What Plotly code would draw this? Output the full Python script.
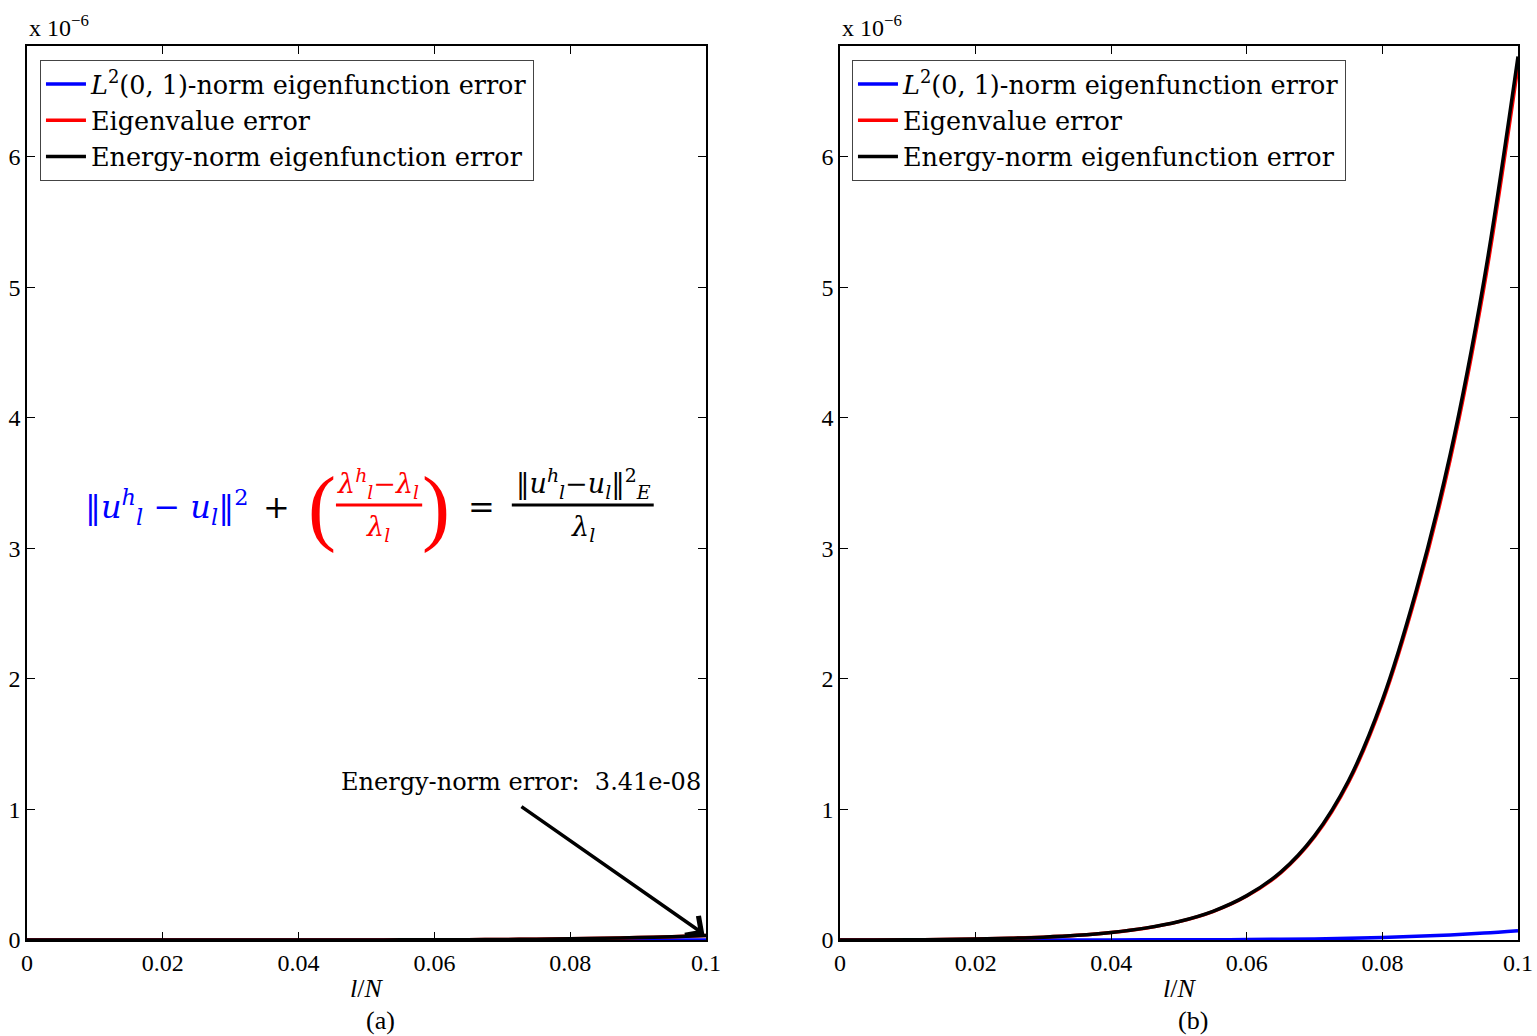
import plotly.graph_objects as go

# ---- data (errors in units of 1e-6) ----
l_over_N = [0.000, 0.005, 0.010, 0.015, 0.020, 0.025, 0.030, 0.035, 0.040, 0.045,
            0.050, 0.055, 0.060, 0.065, 0.070, 0.075, 0.080, 0.085, 0.090, 0.095, 0.100]

# panel (a)
l2_err_a = [0, 0, 0, 0, 0, 0, 0, 0, 0, 0.000001,
            0.000002, 0.000003, 0.000005, 0.000008, 0.000012, 0.00002, 0.00003, 0.00005, 0.00008, 0.00012, 0.00018]
eig_err_a = [0, 0.000001, 0.000007, 0.000018, 0.000036, 0.000065, 0.00011, 0.00018, 0.00029, 0.00046,
             0.00072, 0.0011, 0.0017, 0.0026, 0.0040, 0.0061, 0.0093, 0.0135, 0.0186, 0.0254, 0.0339]
energy_err_a = [0, 0.000001, 0.000007, 0.000018, 0.000036, 0.000065, 0.00011, 0.00018, 0.00029, 0.00046,
                0.00072, 0.0011, 0.0017, 0.0026, 0.0040, 0.0061, 0.0093, 0.0135, 0.0187, 0.0255, 0.0341]

# panel (b)
l2_err_b = [0, 0, 0, 0, 0, 0.0001, 0.0002, 0.0004, 0.0006, 0.001,
            0.0015, 0.0023, 0.0036, 0.0055, 0.0084, 0.0128, 0.019, 0.028, 0.039, 0.053, 0.071]
eig_err_b = [0, 0.0002, 0.0013, 0.0035, 0.0072, 0.0129, 0.0218, 0.0356, 0.0574, 0.090,
             0.1405, 0.2177, 0.3364, 0.5145, 0.7916, 1.207, 1.821, 2.652, 3.681, 5.007, 6.699]
energy_err_b = [0, 0.0002, 0.0013, 0.0035, 0.0072, 0.013, 0.022, 0.036, 0.058, 0.091,
                0.142, 0.22, 0.34, 0.52, 0.80, 1.22, 1.84, 2.68, 3.72, 5.06, 6.77]

x_ticks = [0, 0.02, 0.04, 0.06, 0.08, 0.1]
x_ticklabels = ["0", "0.02", "0.04", "0.06", "0.08", "0.1"]
y_ticks = [0, 1, 2, 3, 4, 5, 6]
y_ticklabels = ["0", "1", "2", "3", "4", "5", "6"]
series_names = ["<i>L</i><sup>2</sup>(0, 1)-norm eigenfunction error",
                "Eigenvalue error",
                "Energy-norm eigenfunction error"]
series_colors = ["#0000ff", "#ff0000", "#000000"]
SCALE = 1e-6

FONT = "Liberation Serif"
WIDE = "DejaVu Serif"

fig = go.Figure()

panels = [
    ("x", "y", "legend", [l2_err_a, eig_err_a, energy_err_a]),
    ("x2", "y2", "legend2", [l2_err_b, eig_err_b, energy_err_b]),
]
for xa, ya, leg, series in panels:
    for name, color, vals in zip(series_names, series_colors, series):
        fig.add_trace(go.Scatter(
            x=l_over_N, y=vals, mode="lines", name=name,
            line=dict(color=color, width=3.5, shape="spline", smoothing=1.0),
            xaxis=xa, yaxis=ya, legend=leg, hoverinfo="skip",
        ))

axis_common = dict(
    showline=True, linecolor="black", linewidth=1.5, mirror="ticks",
    ticks="inside", ticklen=8, tickwidth=1, tickcolor="black",
    showgrid=False, zeroline=False,
    tickfont=dict(family=FONT, size=24, color="black"),
)

fig.update_layout(
    width=1537, height=1036,
    margin=dict(l=27, r=19, t=46, b=96, autoexpand=False),
    paper_bgcolor="white", plot_bgcolor="white",
    font=dict(family=FONT, color="black"),
    showlegend=True,
    xaxis=dict(domain=[0, 0.4554], range=[0, 0.1], tickvals=x_ticks, ticktext=x_ticklabels,
               anchor="y", **axis_common),
    yaxis=dict(domain=[0, 1], range=[0, 6.85], tickvals=y_ticks, ticktext=y_ticklabels,
               anchor="x", **axis_common),
    xaxis2=dict(domain=[0.5453, 1], range=[0, 0.1], tickvals=x_ticks, ticktext=x_ticklabels,
                anchor="y2", **axis_common),
    yaxis2=dict(domain=[0, 1], range=[0, 6.85], tickvals=y_ticks, ticktext=y_ticklabels,
                anchor="x2", **axis_common),
)

legend_style = dict(
    xanchor="left", yanchor="top", bgcolor="white",
    bordercolor="#444444", borderwidth=1,
    font=dict(family=WIDE, size=25.5, color="black"),
    tracegroupgap=0, itemwidth=40,
)
fig.update_layout(
    legend=dict(x=0.0087, y=0.9843, **legend_style),
    legend2=dict(x=0.5533, y=0.9843, **legend_style),
)

# axis exponent labels, axis titles and panel captions
for xa, cap in [("x", "(a)"), ("x2", "(b)")]:
    fig.add_annotation(xref=f"{xa} domain", yref="paper", x=0, y=1.003, xanchor="left",
                       yanchor="bottom", text="x 10<sup>−6</sup>", showarrow=False,
                       font=dict(family=FONT, size=24, color="black"))
    fig.add_annotation(xref=xa, yref="paper", x=0.05, y=-0.0537, yanchor="middle",
                       text="<i>l</i>/<i>N</i>", showarrow=False,
                       font=dict(family=FONT, size=26, color="black"))
    fig.add_annotation(xref=xa, yref="paper", x=0.0521, y=-0.0895, yanchor="middle",
                       text=cap, showarrow=False,
                       font=dict(family=FONT, size=26, color="black"))

# arrow pointing at the final energy-norm error of panel (a)
final_energy_a = energy_err_a[-1]
fig.add_annotation(xref="x", yref="y", axref="x", ayref="y",
                   x=l_over_N[-1], y=final_energy_a, ax=0.0726, ay=1.03,
                   text="", showarrow=True, arrowhead=4, arrowsize=1.3,
                   arrowwidth=3.5, arrowcolor="black", standoff=2)
fig.add_annotation(xref="x", yref="y", x=0.0728, y=1.21, yanchor="middle",
                   text=f"Energy-norm error:  {final_energy_a * SCALE:.2e}",
                   showarrow=False, font=dict(family=WIDE, size=24, color="black"))

# identity relating the three errors
BLUE, RED, BLACK = "#0000ff", "#ff0000", "#000000"
eq_y = 3.32
frac_num_y, frac_den_y, bar_y = 3.50, 3.15, 3.333
eq_parts = [
    (0.0205, eq_y, "‖<i>u</i><sup><i>h</i></sup><sub><i>l</i></sub> − <i>u</i><sub><i>l</i></sub>‖<sup>2</sup>", BLUE, 32),
    (0.0368, eq_y, "+", BLACK, 32),
    (0.04345, eq_y, "(", RED, 84),
    (0.06024, eq_y, ")", RED, 84),
    (0.0517, frac_num_y, "<i>λ</i><sup><i>h</i></sup><sub><i>l</i></sub>−<i>λ</i><sub><i>l</i></sub>", RED, 27),
    (0.0517, frac_den_y, "<i>λ</i><sub><i>l</i></sub>", RED, 27),
    (0.0669, eq_y, "=", BLACK, 32),
    (0.0819, frac_num_y, "‖<i>u</i><sup><i>h</i></sup><sub><i>l</i></sub>−<i>u</i><sub><i>l</i></sub>‖<sup>2</sup><sub><i>E</i></sub>", BLACK, 27),
    (0.0819, frac_den_y, "<i>λ</i><sub><i>l</i></sub>", BLACK, 27),
]
for px, py, txt, col, size in eq_parts:
    fig.add_annotation(xref="x", yref="y", x=px, y=py, text=txt, showarrow=False,
                       xanchor="center", yanchor="middle",
                       font=dict(family=WIDE if size < 60 else FONT, size=size, color=col))
for x0, x1, col in [(0.0455, 0.0582, RED), (0.0714, 0.0923, BLACK)]:
    fig.add_shape(type="line", xref="x", yref="y", x0=x0, x1=x1, y0=bar_y, y1=bar_y,
                  line=dict(color=col, width=3))

fig.write_html("out.html")
